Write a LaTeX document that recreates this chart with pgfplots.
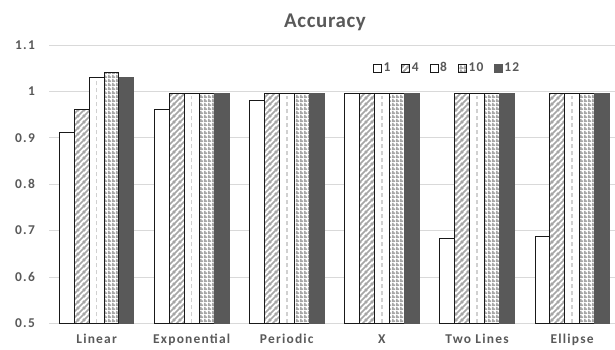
\documentclass[border=0pt]{standalone}
\usepackage{pgfplots}
\pgfplotsset{compat=1.18}
\usepackage{pgfplotstable}
\usepackage{fontspec}
\setmainfont{Carlito}
\newfontfamily\lbl[LetterSpace=9]{Carlito}
\newfontfamily\ttl[LetterSpace=3]{Carlito}
\usetikzlibrary{patterns}
\definecolor{txt}{HTML}{595959}
\definecolor{gridc}{HTML}{D9D9D9}
\definecolor{dark}{HTML}{595959}
\definecolor{hatchc}{HTML}{A6A6A6}
\definecolor{dashc}{HTML}{D0D0D0}

\pgfdeclarepatternformonly{diaghatch}{\pgfqpoint{0bp}{0bp}}{\pgfqpoint{6bp}{6bp}}{\pgfqpoint{6bp}{6bp}}{%
  \pgfsetlinewidth{1.7bp}%
  \pgfpathmoveto{\pgfqpoint{-3bp}{-3bp}}\pgfpathlineto{\pgfqpoint{9bp}{9bp}}%
  \pgfpathmoveto{\pgfqpoint{-3bp}{3bp}}\pgfpathlineto{\pgfqpoint{3bp}{9bp}}%
  \pgfpathmoveto{\pgfqpoint{3bp}{-3bp}}\pgfpathlineto{\pgfqpoint{9bp}{3bp}}%
  \pgfusepath{stroke}}
\pgfdeclarepatternformonly{gridsq}{\pgfqpoint{0bp}{0bp}}{\pgfqpoint{4bp}{4bp}}{\pgfqpoint{4bp}{4bp}}{%
  \pgfpathrectangle{\pgfqpoint{0bp}{0bp}}{\pgfqpoint{4bp}{2bp}}%
  \pgfpathrectangle{\pgfqpoint{0bp}{0bp}}{\pgfqpoint{2bp}{4bp}}%
  \pgfusepath{fill}}

\pgfplotstableread{
x v1 v4 v8 v10 v12 d8
0 0.911 0.962 1.030 1.040 1.030 1.024
1 0.961 0.996 0.996 0.996 0.996 0.990
2 0.980 0.996 0.996 0.996 0.996 0.990
3 0.996 0.996 0.996 0.996 0.996 0.990
4 0.683 0.996 0.996 0.996 0.996 0.990
5 0.688 0.996 0.996 0.996 0.996 0.990
}\datatable

\begin{document}
\begin{tikzpicture}[x=1bp,y=1bp]
\useasboundingbox (0,0) rectangle (615,349);
\begin{axis}[
  at={(49.05bp,25.7bp)}, anchor=south west, scale only axis,
  width=570.6bp, height=278.3bp,
  xmin=-0.5, xmax=5.5, ymin=0.5, ymax=1.1,
  xtick={0,1,2,3,4,5},
  xticklabels={Linear,Exponential,Periodic,X,Two Lines,Ellipse},
  ytick={0.5,0.6,0.7,0.8,0.9,1.0,1.1},
  yticklabels={0.5,0.6,0.7,0.8,0.9,1,1.1},
  ymajorgrids, grid style={gridc, line width=0.8bp},
  axis line style={draw=none}, major tick length=0pt,
  ticklabel style={font=\lbl\fontsize{13.5}{15}\selectfont\bfseries, text=txt},
  yticklabel style={anchor=east, inner sep=0pt, xshift=-14bp},
  xticklabel style={anchor=base, inner sep=0pt, yshift=-20.5bp},
  legend columns=5,
  legend style={at={(0.6974,0.917)}, anchor=center, draw=none, fill=none,
    font=\lbl\fontsize{13.5}{15}\selectfont\bfseries, text=txt,
    nodes={inner sep=1.8bp},
    /tikz/every even column/.append style={column sep=9bp}},
  bar width=0.156,
]
\addplot[ybar, bar shift=-0.312, draw=black!90, line width=0.9bp, fill=white,
  legend image code/.code={\draw[draw=black!90, line width=0.9bp, fill=white] (0bp,-4bp) rectangle (8bp,4bp);}]
  table[x=x, y=v1] {\datatable};
\addlegendentry{1}
\addplot[ybar, bar shift=-0.156, draw=black!90, line width=0.9bp, fill=white,
  postaction={pattern=diaghatch, pattern color=hatchc},
  legend image code/.code={\draw[draw=black!90, line width=0.9bp, fill=white, postaction={pattern=diaghatch, pattern color=hatchc}] (0bp,-4bp) rectangle (8bp,4bp);}]
  table[x=x, y=v4] {\datatable};
\addlegendentry{4}
\addplot[ybar, bar shift=0, draw=black!90, line width=0.9bp, fill=white,
  legend image code/.code={\draw[draw=black!90, line width=0.9bp, fill=white] (0bp,-4bp) rectangle (8bp,4bp);}]
  table[x=x, y=v8] {\datatable};
\addlegendentry{8}
\addplot[ycomb, no marks, forget plot, draw=dashc, line width=1.4bp, dash pattern=on 4bp off 3bp]
  table[x=x, y=d8] {\datatable};
\addplot[ybar, bar shift=0.156, draw=black!90, line width=0.9bp, fill=white,
  postaction={pattern=gridsq, pattern color=hatchc},
  legend image code/.code={\draw[draw=black!90, line width=0.9bp, fill=white, postaction={pattern=gridsq, pattern color=hatchc}] (0bp,-4bp) rectangle (8bp,4bp);}]
  table[x=x, y=v10] {\datatable};
\addlegendentry{10}
\addplot[ybar, bar shift=0.312, draw=dark, line width=0.5bp, fill=dark,
  legend image code/.code={\draw[draw=dark, fill=dark] (0bp,-4bp) rectangle (8bp,4bp);}]
  table[x=x, y=v12] {\datatable};
\addlegendentry{12}
\end{axis}
\node[anchor=base, text=txt, font=\ttl\fontsize{21}{24}\selectfont\bfseries] at (325,322) {Accuracy};
\end{tikzpicture}
\end{document}
